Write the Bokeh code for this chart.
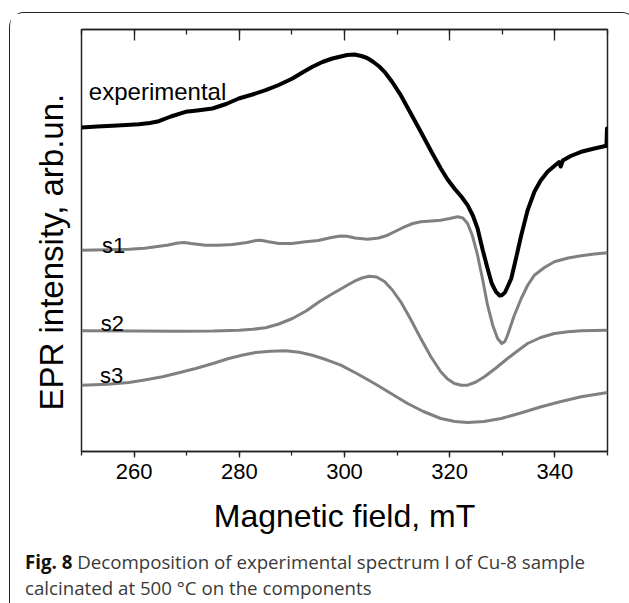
from bokeh.plotting import figure
from bokeh.models import LinearAxis, SingleIntervalTicker, Label, Title, Div
from bokeh.layouts import column
from bokeh.embed import file_html
from bokeh.resources import INLINE

# ---------------- data (arbitrary intensity units) -------------
exp_B = [250.0, 253.0, 255.9, 258.5, 260.9, 263.0, 264.7, 267.0, 269.8, 272.0, 274.9, 277.5,
         279.9, 282.5, 285.0, 287.5, 290.1, 292.0, 293.9, 295.8, 297.7, 299.3, 300.5, 301.9,
         303.2, 304.3, 305.5, 306.6, 307.6, 309.0, 310.7, 312.5, 314.5, 316.4, 318.3, 319.6,
         320.9, 322.2, 323.4, 324.4, 325.3, 326.3, 327.2, 328.0, 328.8, 329.5, 329.9, 330.5,
         331.2, 331.7, 332.6, 333.6, 334.8, 336.1, 337.3, 338.6, 340.0, 340.8, 341.1, 341.5,
         343.0, 345.0, 347.5, 349.8, 349.9, 350.0]
exp_I = [324.0, 325.0, 325.7, 326.5, 327.3, 328.5, 330.3, 335.0, 339.7, 341.0, 343.0, 347.5,
         353.0, 357.0, 361.3, 366.5, 373.0, 379.0, 384.7, 389.5, 393.0, 395.0, 396.5, 397.0,
         395.5, 393.5, 389.5, 385.0, 379.7, 370.0, 356.3, 339.0, 319.7, 301.0, 283.0, 272.0,
         263.0, 255.0, 246.3, 236.0, 223.0, 201.0, 183.0, 168.0, 159.7, 156.0, 156.3, 159.0,
         167.0, 173.0, 193.0, 216.3, 241.0, 259.7, 271.0, 279.7, 286.0, 289.5, 285.0, 291.0,
         295.5, 299.7, 303.0, 305.7, 323.0, 318.0]

s1_B = [250, 255, 259, 262, 264.1, 266.5, 268.3, 269.5, 270.8, 273.6, 276, 278.7, 281.5, 283.2,
        284.1, 285.3, 287.5, 290, 292.6, 295, 297.5, 299.3, 300.5, 302, 304.4, 306.5, 308.2,
        310, 311.4, 313, 314.5, 316.5, 318.3, 320, 321.5, 322.5, 323.4, 324.3, 325.3, 326.3,
        327.2, 328.2, 329.1, 329.9, 330.5, 331.0, 332.2, 333.6, 334.8, 336.1, 338, 339.9,
        342.5, 345, 347.5, 350]
s1_I = [201.3, 201.7, 202.3, 203.3, 204.7, 206.5, 208.5, 209.0, 208.0, 206.3, 206.2, 207.0,
        209.0, 211.0, 211.3, 210.0, 208.0, 208.0, 209.7, 211.0, 214.0, 215.5, 215.2, 213.5,
        212.3, 213.5, 216.3, 221.0, 224.7, 228.0, 229.7, 230.5, 231.3, 233.0, 234.7, 233.5,
        228.0, 216.0, 196.3, 171.0, 146.3, 126.0, 113.0, 108.0, 110.0, 116.3, 135.0, 153.0,
        166.0, 176.3, 184.0, 189.7, 193.5, 195.7, 197.5, 198.7]

s2_B = [250, 260, 268.5, 275, 280, 282.5, 285, 287.5, 290.1, 292.7, 295.2, 297.3, 299.3, 300.6,
        301.9, 303.3, 304.7, 306.1, 307.6, 309.1, 310.7, 312.6, 314.5, 316.4, 318.3, 319.6,
        320.9, 322.2, 323.4, 325, 326.6, 328.8, 331, 333, 334.8, 337.3, 339.9, 342.5, 345, 350]
s2_I = [120.7, 120.5, 120.3, 120.5, 121.3, 122.2, 123.7, 127.5, 133.0, 140.5, 149.7, 156.5,
        162.5, 166.5, 170.3, 173.5, 175.3, 174.5, 170.0, 161.5, 149.7, 132.0, 113.0, 95.0,
        79.7, 72.5, 68.0, 66.2, 66.3, 69.5, 74.7, 83.5, 93.0, 101.0, 108.0, 114.0, 118.0,
        119.7, 120.7, 121.3]

s3_B = [250, 255, 259, 262, 265.4, 268.5, 271.7, 275, 278, 280.5, 283.1, 286, 288.8, 291.4,
        293.9, 296.6, 299.3, 302.5, 305.7, 309, 312, 315, 318.3, 321, 323.4, 326.5, 329.8,
        333.5, 337.4, 341, 345, 350]
s3_I = [66.3, 67.2, 69.0, 71.5, 74.7, 78.7, 83.0, 88.0, 93.0, 96.3, 99.0, 100.3, 100.7, 99.3,
        96.3, 91.7, 86.3, 77.5, 68.0, 57.5, 48.0, 40.0, 33.0, 30.0, 29.0, 30.0, 33.0, 38.5,
        44.7, 49.7, 54.7, 59.0]

series_names = ["experimental", "s1", "s2", "s3"]
label_B = [251.4, 253.9, 253.65, 253.5]
label_I = [360.0, 206.0, 128.0, 76.3]

x_title = "Magnetic field, mT"
y_title = "EPR intensity, arb.un."
caption_bold = "Fig. 8"
caption_rest1 = "Decomposition of experimental spectrum I of Cu-8 sample"
caption_line2 = "calcinated at 500 \u00b0C on the components"

# ---------------- figure -------------
FONT = "Liberation Sans"
p = figure(width=616, height=531, x_range=(250, 350), y_range=(0, 422),
           output_backend="svg", toolbar_location=None,
           min_border_left=71, min_border_right=19, min_border_top=16,
           min_border_bottom=93, x_axis_location=None, y_axis_location=None)
p.grid.visible = False
p.outline_line_color = "#222222"
p.outline_line_width = 1.5
p.background_fill_color = "white"
p.border_fill_color = "white"

ticker = SingleIntervalTicker(interval=20, num_minor_ticks=2)

xb = LinearAxis(ticker=ticker, axis_label=x_title)
xb.axis_line_color = "#222222"
xb.axis_line_width = 1.5
xb.major_tick_in = 0
xb.major_tick_out = 6
xb.minor_tick_in = 0
xb.minor_tick_out = 4
xb.major_tick_line_color = "#222222"
xb.minor_tick_line_color = "#222222"
xb.major_tick_line_width = 1.3
xb.minor_tick_line_width = 1.3
xb.major_label_text_font = FONT
xb.major_label_text_font_size = "22px"
xb.major_label_text_color = "black"
xb.major_label_standoff = 6
xb.axis_label_text_font = FONT
xb.axis_label_text_font_size = "32px"
xb.axis_label_text_font_style = "normal"
xb.axis_label_text_color = "black"
xb.axis_label_standoff = 16
p.add_layout(xb, "below")

xt = LinearAxis(ticker=ticker)
xt.axis_line_color = "#222222"
xt.axis_line_width = 1.5
xt.major_tick_in = 11
xt.major_tick_out = 0
xt.minor_tick_in = 5
xt.minor_tick_out = 0
xt.major_tick_line_color = "#222222"
xt.minor_tick_line_color = "#222222"
xt.major_tick_line_width = 1.3
xt.minor_tick_line_width = 1.3
xt.major_label_text_font_size = "0px"
xt.major_label_text_alpha = 0
xt.major_label_standoff = 0
p.add_layout(xt, "above")

# y axis title as a side title (rotated text)
ytitle = Title(text=y_title, align="left", offset=41, standoff=24,
               text_font=FONT, text_font_size="33px", text_font_style="normal",
               text_color="black")
p.add_layout(ytitle, "left")

# ---------------- curves -------------
p.line(s3_B, s3_I, line_color="#808080", line_width=3, line_join="round")
p.line(s2_B, s2_I, line_color="#808080", line_width=3, line_join="round")
p.line(s1_B, s1_I, line_color="#808080", line_width=3, line_join="round")
p.line(exp_B, exp_I, line_color="black", line_width=4, line_join="round")

for name, bx, by in zip(series_names, label_B, label_I):
    p.add_layout(Label(x=bx, y=by, text=name, text_font=FONT,
                       text_font_size="24px" if name == "experimental" else "22px",
                       text_color="black", text_baseline="alphabetic", text_align="left"))

# caption (HTML text, two separate lines)
line_style = "line-height:25.5px;height:25.5px;white-space:nowrap;"
cap_html = (
    "<div style=\"font-family:'Open Sans';font-size:18.7px;color:#3a3a3a;padding-left:10px;\">"
    f"<div style=\"{line_style}\"><b style=\"color:#111111\">{caption_bold}</b> {caption_rest1}</div>"
    f"<div style=\"{line_style}\">{caption_line2}</div></div>"
)
cap = Div(text=cap_html, width=616, height=57)

layout = column(p, cap, spacing=0,
                styles={"margin-left": "9px", "margin-top": "12px",
                        "border": "1.5px solid #222222", "border-bottom": "none",
                        "border-radius": "15px 15px 0 0"})

open("out.html", "w").write(file_html(layout, INLINE))
